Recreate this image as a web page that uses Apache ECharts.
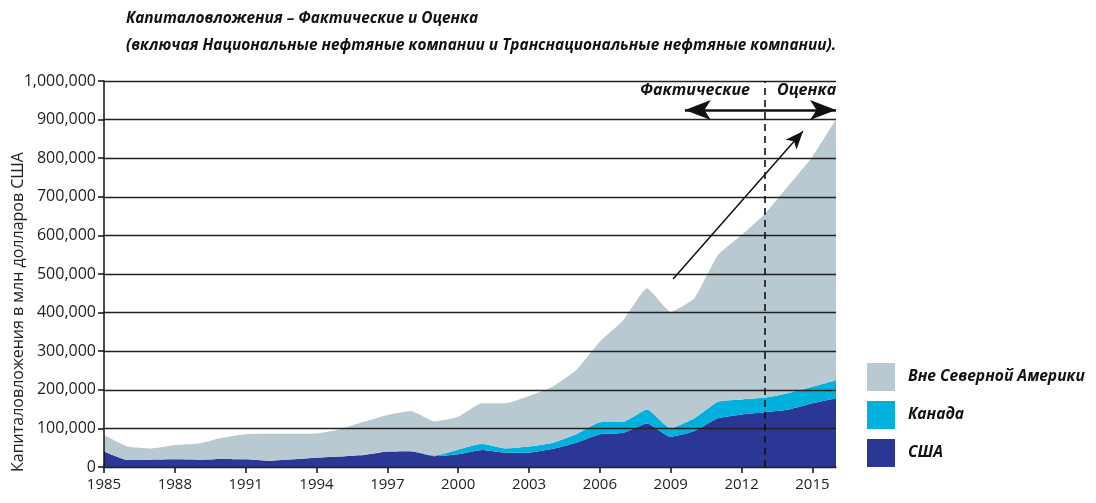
<!DOCTYPE html>
<html>
<head>
<meta charset="utf-8">
<title>Капиталовложения</title>
<script src="https://cdn.jsdelivr.net/npm/echarts@6/dist/echarts.min.js"></script>
<style>
  html, body { margin: 0; padding: 0; background: #fff; }
  #chart { width: 1096px; height: 503px; }
</style>
</head>
<body>
<div id="chart"></div>
<script>
const years = [1985, 1986, 1987, 1988, 1989, 1990, 1991, 1992, 1993, 1994, 1995, 1996, 1997, 1998, 1999, 2000,
  2001, 2002, 2003, 2004, 2005, 2006, 2007, 2008, 2009, 2010, 2011, 2012, 2013, 2014, 2015, 2016]

// млн долларов США
const usa = [40000, 18000, 19000, 20000, 19000, 21000, 20000, 16000, 20000, 24000, 27000, 31000, 40000, 41000, 28000, 33000,
  44000, 37000, 37000, 47000, 63000, 85000, 89000, 113000, 78000, 93000, 126000, 136000, 142000, 149000, 165000, 178000]
const canada = [0, 0, 0, 0, 0, 0, 0, 0, 0, 0, 0, 0, 0, 0, 2000, 12000,
  16000, 11000, 16000, 16000, 22000, 31000, 28000, 36000, 22000, 33000, 43000, 39000, 38000, 43000, 43000, 47000]
const outsideNA = [43000, 35000, 29000, 37000, 42000, 55000, 65000, 70000, 66000, 63000, 71000, 86000, 95000, 104000, 88000, 85000,
  105000, 117000, 131000, 145000, 166000, 209000, 264000, 314000, 302000, 311000, 380000, 426000, 477000, 538000, 596000, 675000]

const firstEstimateYear = 2013

const colors = { outside: '#b9c9d2', canada: '#00b0dd', usa: '#2a3795' }
const textFont = '"Open Sans", "Noto Sans", sans-serif'
const boldItalic = {
  fontFamily: textFont,
  fontSize: 15.4,
  fontStyle: 'italic',
  fontWeight: 'bold',
  color: '#111'
}

const chart = echarts.init(document.getElementById('chart'))

// helper axis in years for the annotations
const at = year => year - years[0]

function areaSeries(name, values, color) {
  return {
    name: name,
    type: 'line',
    stack: 'total',
    data: values,
    symbol: 'none',
    smooth: 0.15,
    lineStyle: { width: 0 },
    color: color,
    areaStyle: { color: color, opacity: 1 }
  }
}

chart.setOption({
  animation: false,
  textStyle: { fontFamily: textFont },
  title: {
    text: 'Капиталовложения – Фактические и Оценка\n(включая Национальные нефтяные компании и Транснациональные нефтяные компании).',
    left: 126,
    top: 5,
    padding: 0,
    textStyle: Object.assign({}, boldItalic, { lineHeight: 27 })
  },
  legend: {
    data: ['Вне Северной Америки', 'Канада', 'США'],
    orient: 'vertical',
    left: 867,
    top: 363,
    padding: 0,
    itemWidth: 28,
    itemHeight: 28,
    itemGap: 10,
    icon: 'rect',
    textStyle: Object.assign({}, boldItalic, { fontSize: 15.6, padding: [0, 0, 0, 8] })
  },
  grid: { left: 104, right: 260, top: 81, bottom: 36, outerBoundsMode: 'none', containLabel: false },
  xAxis: [
    {
      type: 'category',
      data: years,
      boundaryGap: false,
      splitLine: { show: false },
      axisLine: { lineStyle: { color: '#111', width: 1.5 } },
      axisTick: { show: true, interval: 2, length: 6, lineStyle: { color: '#111', width: 1.5 } },
      axisLabel: { interval: 2, fontSize: 15, color: '#222', margin: 10 }
    },
    {
      type: 'value',
      show: false,
      min: 0,
      max: at(years[years.length - 1])
    }
  ],
  yAxis: {
    type: 'value',
    min: 0,
    max: 1000000,
    interval: 100000,
    z: 5,
    name: 'Капиталовложения в млн долларов США',
    nameLocation: 'middle',
    nameMoveOverlap: false,
    nameGap: 78,
    nameTextStyle: { fontSize: 16, color: '#222', padding: [0, 76, 0, 0] },
    axisLine: { show: true, lineStyle: { color: '#111', width: 1.5 } },
    axisTick: { show: true, length: 6, lineStyle: { color: '#111', width: 1.5 } },
    axisLabel: {
      formatter: v => v.toLocaleString('en-US'),
      fontSize: 16,
      color: '#222',
      margin: 8
    },
    splitLine: { lineStyle: { color: '#222', width: 1.3 } }
  },
  series: [
    areaSeries('США', usa, colors.usa),
    areaSeries('Канада', canada, colors.canada),
    areaSeries('Вне Северной Америки', outsideNA, colors.outside),
    {
      name: 'annotations',
      type: 'line',
      xAxisIndex: 1,
      data: [],
      z: 6,
      markLine: {
        silent: true,
        animation: false,
        label: { show: false },
        data: [
          [
            { coord: [at(firstEstimateYear), 0], symbol: 'none' },
            { coord: [at(firstEstimateYear), 1000000], symbol: 'none', lineStyle: { color: '#111', width: 1.6, type: [7, 5] } }
          ],
          [
            { coord: [at(2009.6), 925000], symbol: 'arrow', symbolSize: [15, 26] },
            { coord: [at(2016), 925000], symbol: 'arrow', symbolSize: [15, 26], lineStyle: { color: '#111', width: 2.5, type: 'solid' } }
          ],
          [
            { coord: [at(2009.1), 487000], symbol: 'none' },
            { coord: [at(2014.6), 870000], symbol: 'arrow', symbolSize: [11, 18], lineStyle: { color: '#111', width: 1.5, type: 'solid' } }
          ]
        ]
      }
    }
  ],
  graphic: [
    {
      type: 'text',
      right: 1096 - 750,
      top: 82,
      style: {
        text: 'Фактические',
        font: 'italic bold 16px ' + textFont,
        fill: '#111'
      }
    },
    {
      type: 'text',
      left: 777,
      top: 82,
      style: {
        text: 'Оценка',
        font: 'italic bold 16px ' + textFont,
        fill: '#111'
      }
    }
  ]
})
</script>
</body>
</html>
